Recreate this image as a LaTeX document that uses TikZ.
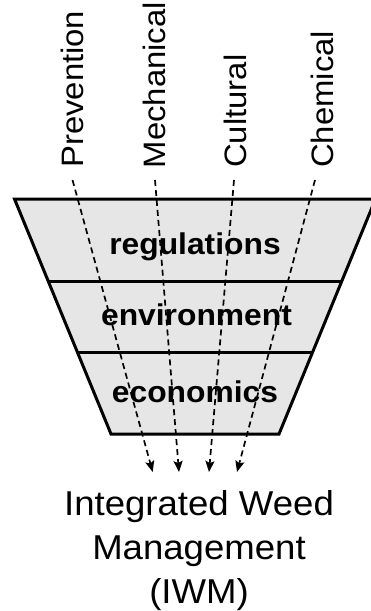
\documentclass[tikz,border=0pt]{standalone}
\usepackage{fontspec}
\setmainfont{Liberation Sans}
\newfontfamily\widesans[FakeStretch=1.06]{Liberation Sans}
\usetikzlibrary{arrows.meta}
\definecolor{funnelgray}{RGB}{230,230,230}
\tikzset{
  toplabel/.style={rotate=90, anchor=base west, inner sep=0pt,
    font=\widesans\fontsize{31}{37}\selectfont},
  layerlabel/.style={anchor=base, inner sep=0pt,
    font=\widesans\bfseries\fontsize{30}{36}\selectfont},
  resultlabel/.style={anchor=north, inner sep=0pt, align=center,
    font=\widesans\fontsize{34.5}{44}\selectfont},
  funnelline/.style={line width=3pt, line join=miter, black},
  flowarrow/.style={line width=1.7pt, dash pattern=on 6pt off 4pt,
    -{Stealth[length=11pt,width=9pt,inset=2pt]}},
}
\begin{document}
\begin{tikzpicture}[x=1pt,y=-1pt]
\useasboundingbox (0,0) rectangle (371,611);
\clip (0,0) rectangle (371,611);
\fill[white] (0,0) rectangle (371,611);
% funnel
\fill[funnelgray] (14.5,199) -- (375.5,199) -- (279,434) -- (111,434) -- cycle;
\draw[funnelline] (14.5,199) -- (375.5,199) -- (279,434) -- (111,434) -- cycle;
\draw[funnelline] (48.3,281.5) -- (341.7,281.5);
\draw[funnelline] (77.3,352) -- (312.7,352);
% labels
\node[toplabel] (prev) at (83,168) {Prevention};
\node[toplabel] (mech) at (165,168.5) {Mechanical};
\node[toplabel] (cult) at (246.7,168) {Cultural};
\node[toplabel] (chem) at (333,168) {Chemical};
\node[layerlabel] (reg) at (195,254.3) {regulations};
\node[layerlabel] (env) at (196.5,325.5) {environment};
\node[layerlabel] (eco) at (195,402.7) {economics};
\node[resultlabel] (iwm) at (199,490) {Integrated Weed\\Management\\(IWM)};
% connectors
\coordinate (ps) at (72.5,180);  \coordinate (pe) at (152.7,472);
\coordinate (ms) at (155,180);   \coordinate (me) at (179,472);
\coordinate (cs) at (234,180);   \coordinate (ce) at (209,472);
\coordinate (hs) at (315,180);   \coordinate (he) at (237,472);
\draw[flowarrow] (ps) -- (pe);
\draw[flowarrow] (ms) -- (me);
\draw[flowarrow] (cs) -- (ce);
\draw[flowarrow] (hs) -- (he);
\end{tikzpicture}
\end{document}
